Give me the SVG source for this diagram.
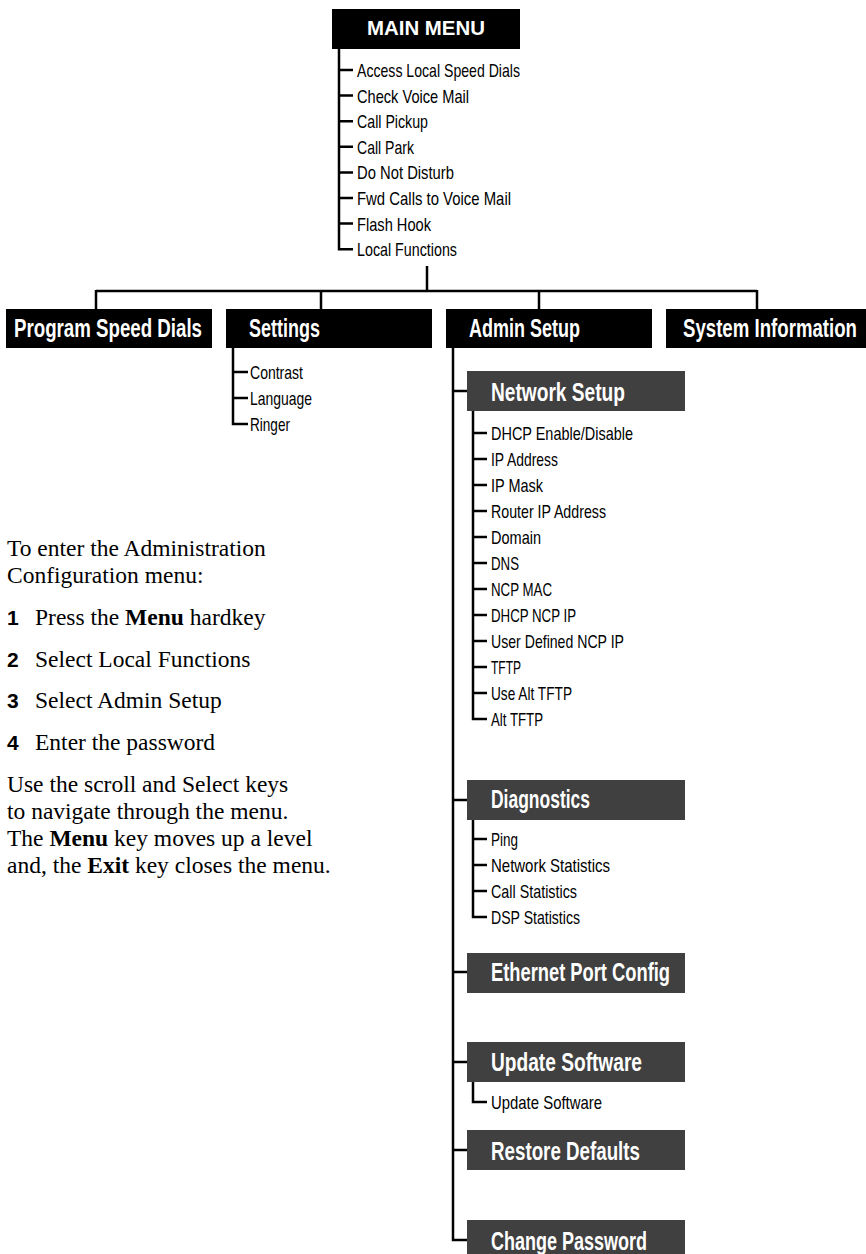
<svg xmlns="http://www.w3.org/2000/svg" width="866" height="1254" viewBox="0 0 866 1254">
<style>
.hdr{font-family:"Liberation Sans",Arial,sans-serif;font-weight:bold;font-size:25px;fill:#fff}
.mm{font-family:"Liberation Sans",Arial,sans-serif;font-weight:bold;font-size:21px;fill:#fff}
.item{font-family:"Liberation Sans",Arial,sans-serif;font-size:19px;fill:#000}
.body{font-family:"Liberation Serif","Times New Roman",serif;font-size:23.5px;fill:#000}
.num{font-family:"Liberation Sans",Arial,sans-serif;font-weight:bold;font-size:21px;fill:#000}
.ln{stroke:#000;stroke-width:2.5;fill:none}
.blk{fill:#000}
.gry{fill:#404040}
</style>
<rect width="866" height="1254" fill="#fff"/>
<g id="connectors">
<path class="ln" d="M339,49V249.2H353M339,70H353M339,95.6H353M339,121.2H353M339,146.8H353M339,172.4H353M339,198H353M339,223.6H353"/>
<path class="ln" d="M427,266V291M96,291H757M96,290V309M321,290V309M539,290V309M757,290V309"/>
<path class="ln" d="M233,348V424H248M233,372H248M233,398H248"/>
<path class="ln" d="M453,348V1240H467M453,391H467M453,800H467M453,972H467M453,1062H467M453,1150H467"/>
<path class="ln" d="M473,411V719H487M473,433H487M473,459H487M473,485H487M473,511H487M473,537H487M473,563H487M473,589H487M473,615H487M473,641H487M473,667H487M473,693H487"/>
<path class="ln" d="M473,819V917H487M473,839H487M473,865H487M473,891H487"/>
<path class="ln" d="M473,1082V1102H487"/>
</g>
<g id="main-menu">
<rect class="blk" x="332" y="9" width="188" height="40"/>
<text class="mm" x="367" y="35" textLength="118" lengthAdjust="spacingAndGlyphs">MAIN MENU</text>
<text class="item" x="357" y="77" textLength="163" lengthAdjust="spacingAndGlyphs">Access Local Speed Dials</text>
<text class="item" x="357" y="102.6" textLength="112" lengthAdjust="spacingAndGlyphs">Check Voice Mail</text>
<text class="item" x="357" y="128.2" textLength="71" lengthAdjust="spacingAndGlyphs">Call Pickup</text>
<text class="item" x="357" y="153.8" textLength="57" lengthAdjust="spacingAndGlyphs">Call Park</text>
<text class="item" x="357" y="179.4" textLength="97" lengthAdjust="spacingAndGlyphs">Do Not Disturb</text>
<text class="item" x="357" y="205" textLength="154" lengthAdjust="spacingAndGlyphs">Fwd Calls to Voice Mail</text>
<text class="item" x="357" y="230.6" textLength="74" lengthAdjust="spacingAndGlyphs">Flash Hook</text>
<text class="item" x="357" y="256.2" textLength="100" lengthAdjust="spacingAndGlyphs">Local Functions</text>
</g>
<g id="program-speed-dials">
<rect class="blk" x="6" y="309" width="206" height="39"/>
<text class="hdr" x="14" y="337" textLength="188" lengthAdjust="spacingAndGlyphs">Program Speed Dials</text>
</g>
<g id="settings">
<rect class="blk" x="226" y="309" width="206" height="39"/>
<text class="hdr" x="249" y="337" textLength="71" lengthAdjust="spacingAndGlyphs">Settings</text>
<text class="item" x="250" y="379" textLength="53" lengthAdjust="spacingAndGlyphs">Contrast</text>
<text class="item" x="250" y="405" textLength="62" lengthAdjust="spacingAndGlyphs">Language</text>
<text class="item" x="250" y="431" textLength="40" lengthAdjust="spacingAndGlyphs">Ringer</text>
</g>
<g id="admin-setup">
<rect class="blk" x="446" y="309" width="206" height="39"/>
<text class="hdr" x="469" y="337" textLength="111" lengthAdjust="spacingAndGlyphs">Admin Setup</text>
</g>
<g id="system-information">
<rect class="blk" x="666" y="309" width="200" height="39"/>
<text class="hdr" x="683" y="337" textLength="174" lengthAdjust="spacingAndGlyphs">System Information</text>
</g>
<g id="network-setup">
<rect class="gry" x="467" y="371" width="218" height="40"/>
<text class="hdr" x="491" y="401" textLength="134" lengthAdjust="spacingAndGlyphs">Network Setup</text>
<text class="item" x="491" y="440" textLength="142" lengthAdjust="spacingAndGlyphs">DHCP Enable/Disable</text>
<text class="item" x="491" y="466" textLength="67" lengthAdjust="spacingAndGlyphs">IP Address</text>
<text class="item" x="491" y="492" textLength="52" lengthAdjust="spacingAndGlyphs">IP Mask</text>
<text class="item" x="491" y="518" textLength="115" lengthAdjust="spacingAndGlyphs">Router IP Address</text>
<text class="item" x="491" y="544" textLength="50" lengthAdjust="spacingAndGlyphs">Domain</text>
<text class="item" x="491" y="570" textLength="28" lengthAdjust="spacingAndGlyphs">DNS</text>
<text class="item" x="491" y="596" textLength="61" lengthAdjust="spacingAndGlyphs">NCP MAC</text>
<text class="item" x="491" y="622" textLength="85" lengthAdjust="spacingAndGlyphs">DHCP NCP IP</text>
<text class="item" x="491" y="648" textLength="133" lengthAdjust="spacingAndGlyphs">User Defined NCP IP</text>
<text class="item" x="491" y="674" textLength="30" lengthAdjust="spacingAndGlyphs">TFTP</text>
<text class="item" x="491" y="700" textLength="81" lengthAdjust="spacingAndGlyphs">Use Alt TFTP</text>
<text class="item" x="491" y="726" textLength="52" lengthAdjust="spacingAndGlyphs">Alt TFTP</text>
</g>
<g id="diagnostics">
<rect class="gry" x="467" y="780" width="218" height="40"/>
<text class="hdr" x="491" y="808" textLength="99" lengthAdjust="spacingAndGlyphs">Diagnostics</text>
<text class="item" x="491" y="846" textLength="27" lengthAdjust="spacingAndGlyphs">Ping</text>
<text class="item" x="491" y="872" textLength="119" lengthAdjust="spacingAndGlyphs">Network Statistics</text>
<text class="item" x="491" y="898" textLength="86" lengthAdjust="spacingAndGlyphs">Call Statistics</text>
<text class="item" x="491" y="924" textLength="89" lengthAdjust="spacingAndGlyphs">DSP Statistics</text>
</g>
<g id="ethernet-port-config">
<rect class="gry" x="467" y="953" width="218" height="40"/>
<text class="hdr" x="491" y="981" textLength="179" lengthAdjust="spacingAndGlyphs">Ethernet Port Config</text>
</g>
<g id="update-software">
<rect class="gry" x="467" y="1042" width="218" height="40"/>
<text class="hdr" x="491" y="1071" textLength="151" lengthAdjust="spacingAndGlyphs">Update Software</text>
<text class="item" x="491" y="1109" textLength="111" lengthAdjust="spacingAndGlyphs">Update Software</text>
</g>
<g id="restore-defaults">
<rect class="gry" x="467" y="1130" width="218" height="40"/>
<text class="hdr" x="491" y="1160" textLength="149" lengthAdjust="spacingAndGlyphs">Restore Defaults</text>
</g>
<g id="change-password">
<rect class="gry" x="467" y="1220" width="218" height="40"/>
<text class="hdr" x="491" y="1250" textLength="156" lengthAdjust="spacingAndGlyphs">Change Password</text>
</g>
<g id="instructions">
<text class="body" x="7" y="556">To enter the Administration</text>
<text class="body" x="7" y="583">Configuration menu:</text>
<text class="num" x="7" y="625">1</text>
<text class="body" x="35" y="625">Press the <tspan font-weight="bold">Menu</tspan> hardkey</text>
<text class="num" x="7" y="667">2</text>
<text class="body" x="35" y="667">Select Local Functions</text>
<text class="num" x="7" y="708">3</text>
<text class="body" x="35" y="708">Select Admin Setup</text>
<text class="num" x="7" y="750">4</text>
<text class="body" x="35" y="750">Enter the password</text>
<text class="body" x="7" y="792">Use the scroll and Select keys</text>
<text class="body" x="7" y="819">to navigate through the menu.</text>
<text class="body" x="7" y="846">The <tspan font-weight="bold">Menu</tspan> key moves up a level</text>
<text class="body" x="7" y="873">and, the <tspan font-weight="bold">Exit</tspan> key closes the menu.</text>
</g>
</svg>
